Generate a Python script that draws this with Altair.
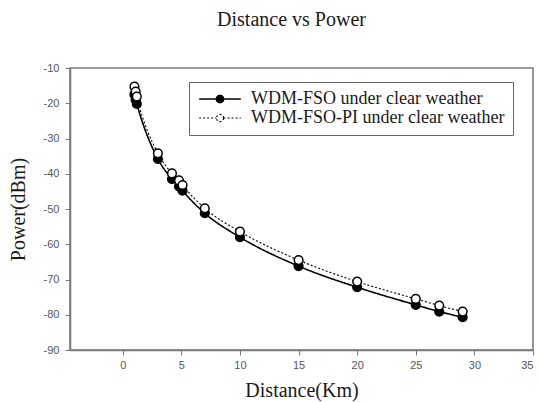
import altair as alt
import pandas as pd

series_names = ["WDM-FSO under clear weather", "WDM-FSO-PI under clear weather"]
distance_km = [1.0, 1.1, 1.2, 3, 4.2, 4.8, 5.1, 7, 10, 15, 20, 25, 27, 29]
power_fso = [-17.5, -19.0, -20.2, -35.8, -41.5, -43.6, -44.8, -51.2, -58.0, -66.2, -72.2, -77.2, -79.1, -80.7]
power_fso_pi = [-15.3, -16.7, -18.1, -34.2, -39.9, -41.9, -43.2, -49.8, -56.4, -64.5, -70.6, -75.5, -77.4, -79.1]
x_ticks = [0, 5, 10, 15, 20, 25, 30, 35]
y_ticks = [-90, -80, -70, -60, -50, -40, -30, -20, -10]

rows = []
for d, p in zip(distance_km, power_fso):
    rows.append({"Distance": d, "Power": p, "Series": series_names[0]})
for d, p in zip(distance_km, power_fso_pi):
    rows.append({"Distance": d, "Power": p, "Series": series_names[1]})
df = pd.DataFrame(rows)

legend_path = ("M-2.6,0L-0.45,0M0.45,0L2.6,0"
               "M0.45,0A0.45,0.45,0,1,1,-0.45,0A0.45,0.45,0,1,1,0.45,0Z")


def make_legend():
    return alt.Legend(
        title=None, orient="none", legendX=119, legendY=14,
        symbolType=legend_path, symbolSize=256,
        symbolStrokeColor="black", symbolOpacity=1,
        symbolOffset=14, labelOffset=22,
        labelFont="Liberation Serif", labelFontSize=18, labelColor="#1a1a1a",
        labelLimit=500, rowPadding=1,
        labelExpr="datum.label + '\u00a0\u00a0\u00a0\u00a0\u00a0\u00a0\u00a0\u00a0\u00a0\u00a0'",
        strokeColor="#666", padding=8, fillColor="white",
    )


x_enc = alt.X("Distance:Q", scale=alt.Scale(domain=[-4.5, 35], nice=False, zero=False),
              axis=alt.Axis(values=x_ticks, title="Distance(Km)", grid=False,
                            titleFont="Liberation Serif", titleFontSize=20,
                            titleFontWeight="normal", titleColor="#1a1a1a",
                            titlePadding=10, labelExpr="toString(datum.value)"))
y_enc = alt.Y("Power:Q", scale=alt.Scale(domain=[-90, -10], nice=False, zero=False),
              axis=alt.Axis(values=y_ticks, title="Power(dBm)", grid=False,
                            titleFont="Liberation Serif", titleFontSize=20,
                            titleFontWeight="normal", titleColor="#1a1a1a",
                            titlePadding=15, labelPadding=6,
                            labelExpr="toString(datum.value)"))

base = alt.Chart(df).encode(x=x_enc, y=y_enc)

lines = base.mark_line(interpolate="monotone", color="black").encode(
    strokeDash=alt.StrokeDash("Series:N",
                              scale=alt.Scale(domain=series_names, range=[[1, 0], [2, 2]]),
                              legend=make_legend()),
    strokeWidth=alt.StrokeWidth("Series:N",
                                scale=alt.Scale(domain=series_names, range=[1.6, 1.1]),
                                legend=make_legend()),
    detail="Series:N",
)

points = base.mark_point(filled=False, size=75, strokeWidth=1.5, color="black", opacity=1).encode(
    fill=alt.Fill("Series:N",
                  scale=alt.Scale(domain=series_names, range=["black", "white"]),
                  legend=make_legend()),
)

chart = alt.layer(lines, points).properties(
    width=463, height=282,
    title=alt.TitleParams("Distance vs Power", font="Liberation Serif", fontSize=20,
                          fontWeight="normal", color="#1a1a1a", anchor="middle", dx=-10, offset=32),
    autosize=alt.AutoSizeParams(type="none"),
    padding={"left": 70, "top": 68, "right": 7, "bottom": 52},
).configure_view(
    stroke="#777", strokeWidth=1.5
).configure_axis(
    domainColor="#777", domainWidth=1.5, tickColor="#777", tickSize=5, tickWidth=1,
    labelFont="Liberation Sans", labelFontSize=11, labelColor="#555", labelPadding=4,
)

chart.save("out.html", embed_options={"renderer": "svg", "actions": False})
